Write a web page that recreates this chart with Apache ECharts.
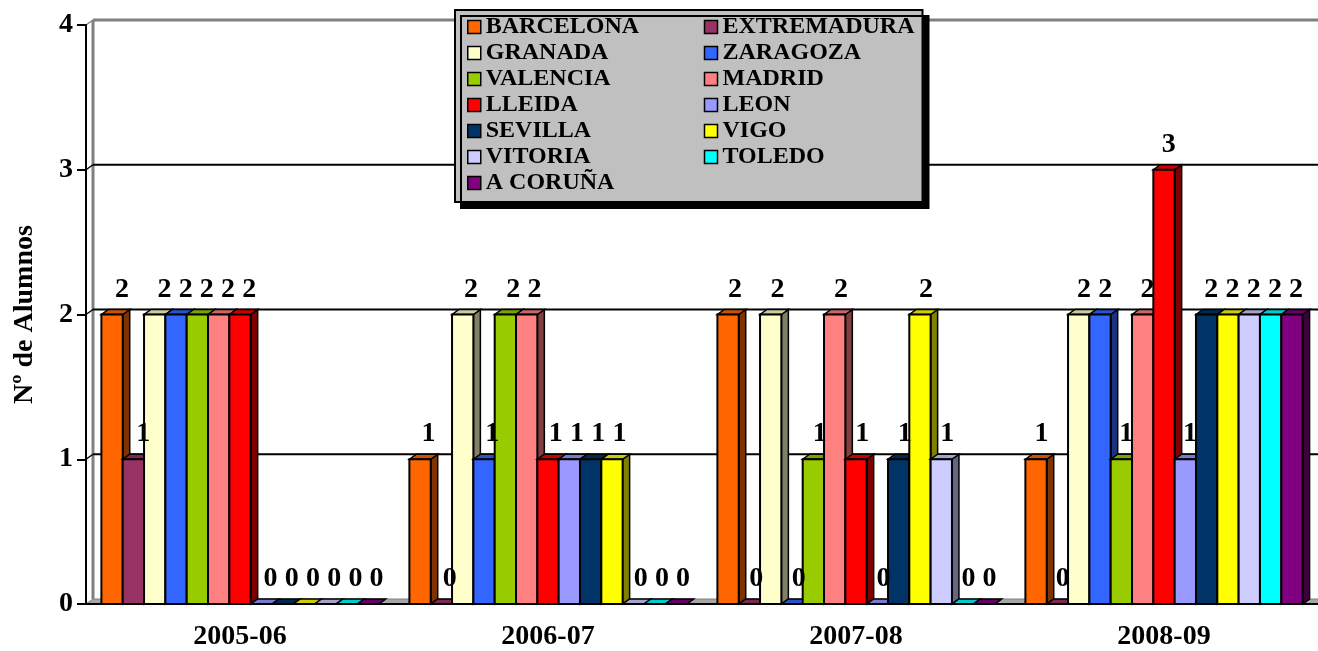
<!DOCTYPE html>
<html>
<head>
<meta charset="utf-8">
<script src="https://cdn.jsdelivr.net/npm/echarts@6/dist/echarts.min.js"></script>
<style>
html, body { margin: 0; padding: 0; background: #fff; }
#chart { width: 1318px; height: 651px; }
</style>
</head>
<body>
<div id="chart"></div>
<script>
// datos
var cursos = ['2005-06', '2006-07', '2007-08', '2008-09'];
var ciudades = ['BARCELONA', 'EXTREMADURA', 'GRANADA', 'ZARAGOZA', 'VALENCIA', 'MADRID', 'LLEIDA',
                'LEON', 'SEVILLA', 'VIGO', 'VITORIA', 'TOLEDO', 'A CORUÑA'];
var barcelona   = [2, 1, 2, 1];
var extremadura = [1, 0, 0, 0];
var granada     = [2, 2, 2, 2];
var zaragoza    = [2, 1, 0, 2];
var valencia    = [2, 2, 1, 1];
var madrid      = [2, 2, 2, 2];
var lleida      = [2, 1, 1, 3];
var leon        = [0, 1, 0, 1];
var sevilla     = [0, 1, 1, 2];
var vigo        = [0, 1, 2, 2];
var vitoria     = [0, 0, 1, 2];
var toledo      = [0, 0, 0, 2];
var coruna      = [0, 0, 0, 2];
var valores = [barcelona, extremadura, granada, zaragoza, valencia, madrid, lleida,
               leon, sevilla, vigo, vitoria, toledo, coruna];
var ticksY = [0, 1, 2, 3, 4];

var colores = ['#FF6600', '#993366', '#FFFFCC', '#3366FF', '#99CC00', '#FF8080', '#FF0000',
               '#9999FF', '#003366', '#FFFF00', '#CCCCFF', '#00FFFF', '#800080'];

var DX = 7, DY = 5;   // profundidad 3D
var FONT = 'Liberation Serif';

function shade(hex, f) {
    var n = parseInt(hex.slice(1), 16);
    var r = Math.round(((n >> 16) & 255) * f);
    var g = Math.round(((n >> 8) & 255) * f);
    var b = Math.round((n & 255) * f);
    return 'rgb(' + r + ',' + g + ',' + b + ')';
}

/**
 * barra con cara frontal, superior y lateral
 */
function makeBar(si) {
    return function (params, api) {
        var cat = api.value(0), val = api.value(1);
        var p0 = api.coord([cat, 0]);
        var p1 = api.coord([cat, val]);
        var band = api.size([1, 0])[0];
        var w = band * 0.9 / ciudades.length;
        var x = p0[0] - band * 0.45 + si * w;
        var yb = p0[1], yt = p1[1];
        var c = colores[si];
        var cs = params.coordSys;
        var off = 10 - 6 * (x - cs.x) / cs.width;
        return {
            type: 'group',
            children: [
                {type: 'polygon', shape: {points: [[x + w, yt], [x + w + DX, yt - DY], [x + w + DX, yb - DY], [x + w, yb]]},
                 style: {fill: shade(c, 0.5), stroke: '#000', lineWidth: 1.5}},
                {type: 'polygon', shape: {points: [[x, yt], [x + w, yt], [x + w + DX, yt - DY], [x + DX, yt - DY]]},
                 style: {fill: shade(c, 0.8), stroke: '#000', lineWidth: 1.5}},
                {type: 'rect', shape: {x: x, y: yt, width: w, height: yb - yt},
                 style: {fill: c, stroke: '#000', lineWidth: 2}},
                {type: 'text', x: x + w / 2 + off, y: yt - 25, z2: 50,
                 style: {text: String(val), fill: '#000', font: 'bold 28px "' + FONT + '"',
                         align: 'center', verticalAlign: 'middle'}}
            ]
        };
    };
}

/**
 * pared del fondo, suelo y lineas de division
 */
function renderWall(params, api) {
    var v = api.value(1);
    var cs = params.coordSys;
    var y = api.coord([0, v])[1];
    var x0 = cs.x, x1 = cs.x + cs.width;
    var ch = [];
    if (v === ticksY[0]) {
        ch.push({type: 'polygon', shape: {points: [[x0, y], [x1, y], [x1 + DX, y - DY], [x0 + DX, y - DY]]},
                 style: {fill: '#A6A6A6', stroke: '#808080', lineWidth: 1}});
        ch.push({type: 'line', shape: {x1: x0 + DX, y1: y - DY, x2: x0 + DX, y2: cs.y - DY},
                 style: {stroke: '#808080', lineWidth: 3}});
    } else {
        var top = v === ticksY[ticksY.length - 1];
        ch.push({type: 'line', shape: {x1: x0, y1: y, x2: x0 + DX, y2: y - DY},
                 style: {stroke: top ? '#808080' : '#000', lineWidth: 1.5}});
        ch.push({type: 'line', shape: {x1: x0 + DX, y1: y - DY, x2: x1 + DX, y2: y - DY},
                 style: {stroke: top ? '#808080' : '#000', lineWidth: top ? 3 : 2}});
    }
    return {type: 'group', children: ch};
}

var dom = document.getElementById('chart');
var chart = echarts.init(dom);

var series = [{
    type: 'custom',
    name: 'pared',
    silent: true,
    renderItem: renderWall,
    encode: {x: 0, y: 1},
    data: ticksY.map(function (v) { return [0, v]; })
}];
ciudades.forEach(function (name, i) {
    series.push({
        type: 'custom',
        name: name,
        itemStyle: {color: colores[i]},
        renderItem: makeBar(i),
        encode: {x: 0, y: 1},
        data: valores[i].map(function (v, k) { return [k, v]; })
    });
});

// leyenda en dos columnas (orden por columnas)
var col1 = ['BARCELONA', 'GRANADA', 'VALENCIA', 'LLEIDA', 'SEVILLA', 'VITORIA', 'A CORUÑA'];
var col2 = ['EXTREMADURA', 'ZARAGOZA', 'MADRID', 'LEON', 'VIGO', 'TOLEDO'];
var legendData = col1.map(function (n) { return {name: n}; })
    .concat(col2.map(function (n) { return {name: n, textStyle: {width: 194}}; }));

var option = {
    animation: false,
    grid: {left: 86, right: 0, top: 25, bottom: 47},
    legend: {
        orient: 'vertical',
        left: 455,
        top: 10,
        height: 190,
        data: legendData,
        icon: 'rect',
        itemWidth: 13,
        itemHeight: 13,
        itemGap: 0,
        itemStyle: {borderColor: '#000', borderWidth: 1.5},
        textStyle: {fontFamily: FONT, fontWeight: 'bold', fontSize: 24, color: '#000', lineHeight: 26, width: 218},
        padding: [4, 6, 6, 12],
        backgroundColor: '#C0C0C0',
        borderColor: '#000',
        borderWidth: 2,
        shadowColor: '#000',
        shadowOffsetX: 6,
        shadowOffsetY: 6,
        shadowBlur: 0,
        selectedMode: false
    },
    xAxis: {
        type: 'category',
        data: cursos,
        z: 5,
        axisLine: {lineStyle: {color: '#000', width: 2}},
        axisTick: {length: 8, lineStyle: {color: '#000', width: 2}},
        axisLabel: {margin: 19, fontFamily: FONT, fontWeight: 'bold', fontSize: 28, color: '#000'}
    },
    yAxis: {
        type: 'value',
        min: 0,
        max: 4,
        interval: 1,
        z: 5,
        name: 'Nº de Alumnos',
        nameLocation: 'middle',
        nameGap: 47,
        nameTextStyle: {fontFamily: FONT, fontWeight: 'bold', fontSize: 28, color: '#000'},
        axisLine: {show: true, lineStyle: {color: '#000', width: 2}},
        axisTick: {show: true, length: 9, lineStyle: {color: '#000', width: 2}},
        axisLabel: {margin: 13, fontFamily: FONT, fontWeight: 'bold', fontSize: 28, color: '#000'},
        splitLine: {show: false}
    },
    series: series
};

if (option && typeof option === 'object') {
    chart.setOption(option);
}

window.addEventListener('resize', function () {
    chart.resize();
});
</script>
</body>
</html>
